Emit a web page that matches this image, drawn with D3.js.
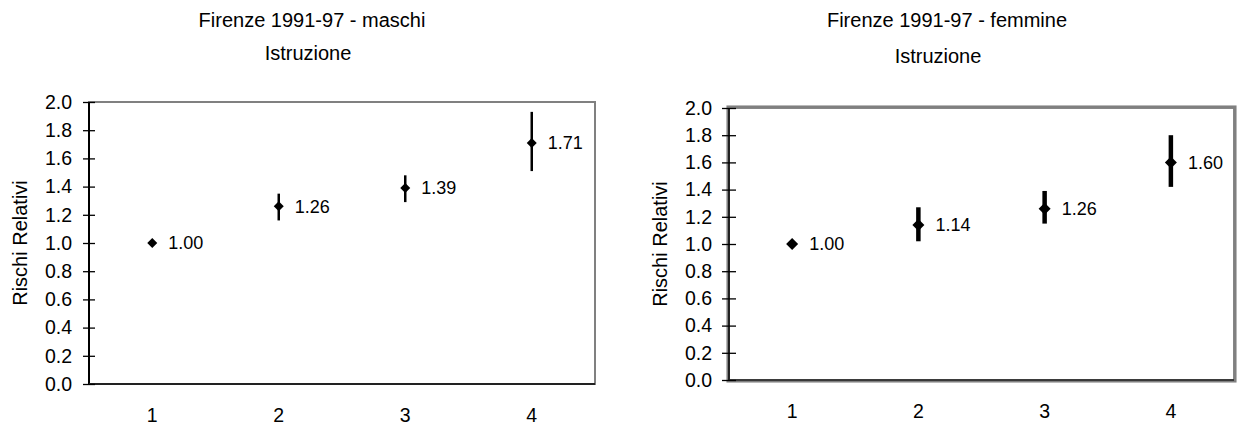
<!DOCTYPE html>
<html>
<head>
<meta charset="utf-8">
<script src="https://cdn.jsdelivr.net/npm/d3@7"></script>
<style>
  body { margin: 0; background: #fff; }
  svg text { font-family: "Liberation Sans", Arial, sans-serif; fill: #000; }
</style>
</head>
<body>
<svg id="chart" width="1240" height="428"></svg>
<script>
'use strict';

const categories = ['1', '2', '3', '4'];
const yTicks = [0, 0.2, 0.4, 0.6, 0.8, 1.0, 1.2, 1.4, 1.6, 1.8, 2.0];

const maleRR = [1.00, 1.26, 1.39, 1.71];
const maleLow = [null, 1.16, 1.29, 1.51];
const maleHigh = [null, 1.35, 1.48, 1.93];

const femaleRR = [1.00, 1.14, 1.26, 1.60];
const femaleLow = [null, 1.02, 1.15, 1.42];
const femaleHigh = [null, 1.27, 1.39, 1.80];

const svg = d3.select('#chart');
const FONT = '"Liberation Sans", Arial, sans-serif';

function drawPanel(opts) {
  const x = d3.scaleBand().domain(categories).range([opts.left, opts.right]);
  const y = d3.scaleLinear().domain([0, 2]).range([opts.bottom, opts.top]);
  const g = svg.append('g');

  g.append('text').attr('x', opts.titleX).attr('y', 27)
    .attr('text-anchor', 'middle').attr('font-size', 20).text(opts.title);
  g.append('text').attr('x', opts.subX).attr('y', opts.subY)
    .attr('text-anchor', 'middle').attr('font-size', 20).text('Istruzione');

  // frame: grey box, then the two axes on top
  const f = opts.frameOut;
  g.append('rect')
    .attr('x', opts.left - f).attr('y', opts.top - f)
    .attr('width', opts.right - opts.left + 2 * f).attr('height', opts.bottom - opts.top + 2 * f)
    .attr('fill', 'none').attr('stroke', '#808080').attr('stroke-width', opts.frame);
  g.append('line').attr('x1', opts.left).attr('x2', opts.left)
    .attr('y1', opts.top).attr('y2', opts.bottom)
    .attr('stroke', '#000').attr('stroke-width', opts.axisW);
  g.append('line').attr('x1', opts.left).attr('x2', opts.right)
    .attr('y1', opts.bottom).attr('y2', opts.bottom)
    .attr('stroke', '#222').attr('stroke-width', opts.axisW);

  const yAxis = d3.axisLeft(y).tickValues(yTicks).tickFormat(d3.format('.1f'))
    .tickSize(opts.tick).tickPadding(opts.tickPad);
  const ya = g.append('g').attr('transform', `translate(${opts.left},0)`).call(yAxis);
  ya.select('.domain').remove();
  ya.selectAll('.tick line').attr('x1', opts.tick).attr('stroke', '#000').attr('stroke-width', 1.3);
  ya.selectAll('.tick text').attr('font-size', 19.5).attr('font-family', FONT);

  const xAxis = d3.axisBottom(x).tickSize(0).tickPadding(24);
  const xa = g.append('g').attr('transform', `translate(0,${opts.bottom})`).call(xAxis);
  xa.select('.domain').remove();
  xa.selectAll('.tick text').attr('font-size', 19.5).attr('font-family', FONT);

  g.append('text')
    .attr('transform', `translate(${opts.labelX},${(opts.top + opts.bottom) / 2}) rotate(-90)`)
    .attr('text-anchor', 'middle').attr('font-size', 20).text('Rischi Relativi');

  const pts = categories.map((c, i) => ({ c, v: opts.rr[i], lo: opts.lo[i], hi: opts.hi[i] }));
  const cx = d => x(d.c) + x.bandwidth() / 2;

  g.selectAll('.err').data(pts.filter(d => d.lo !== null)).enter().append('line')
    .attr('x1', cx).attr('x2', cx)
    .attr('y1', d => y(d.lo)).attr('y2', d => y(d.hi))
    .attr('stroke', '#000').attr('stroke-width', opts.errW);

  const s = opts.dia;
  g.selectAll('.pt').data(pts).enter().append('path')
    .attr('d', `M0,${-s}L${s},0L0,${s}L${-s},0Z`)
    .attr('transform', d => `translate(${cx(d)},${y(d.v)})`)
    .attr('fill', '#000');

  g.selectAll('.lab').data(pts).enter().append('text')
    .attr('x', d => cx(d) + opts.labOff)
    .attr('y', d => y(d.v)).attr('dy', '0.35em')
    .attr('font-size', 18).text(d => d.v.toFixed(2));
}

drawPanel({
  left: 89, right: 595, top: 102, bottom: 384,
  title: 'Firenze 1991-97 - maschi', titleX: 312, subX: 308, subY: 60,
  labelX: 27, rr: maleRR, lo: maleLow, hi: maleHigh,
  frame: 2, frameOut: 0, axisW: 2, errW: 2.5, dia: 5, labOff: 16,
  tick: 6, tickPad: 11
});

drawPanel({
  left: 729, right: 1234, top: 108, bottom: 380,
  title: 'Firenze 1991-97 - femmine', titleX: 947, subX: 938, subY: 63,
  labelX: 667, rr: femaleRR, lo: femaleLow, hi: femaleHigh,
  frame: 3.5, frameOut: 0.8, axisW: 1.5, errW: 4.5, dia: 6, labOff: 17,
  tick: 7, tickPad: 10
});
</script>
</body>
</html>
